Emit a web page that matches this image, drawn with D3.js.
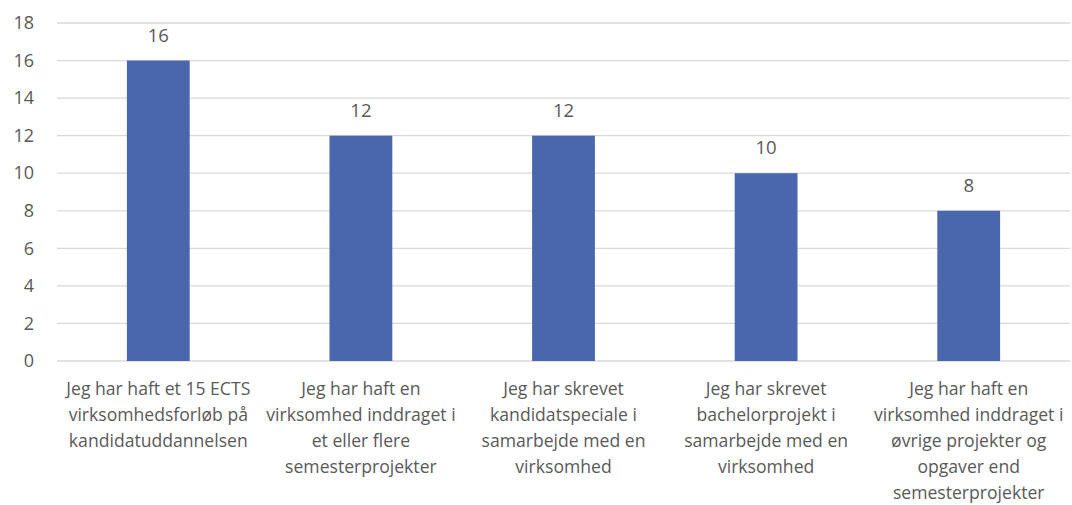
<!DOCTYPE html>
<html>
<head>
<meta charset="utf-8">
<script src="https://cdn.jsdelivr.net/npm/d3@7"></script>
<style>
  body { margin: 0; background: #fff; }
  text { font-family: "Open Sans", "Noto Sans", sans-serif; fill: #595959; }
</style>
</head>
<body>
<div id="chart"></div>
<script>
// Data
const categories = [
    ["Jeg har haft et 15 ECTS", "virksomhedsforløb på", "kandidatuddannelsen"],
    ["Jeg har haft en", "virksomhed inddraget i", "et eller flere", "semesterprojekter"],
    ["Jeg har skrevet", "kandidatspeciale i", "samarbejde med en", "virksomhed"],
    ["Jeg har skrevet", "bachelorprojekt i", "samarbejde med en", "virksomhed"],
    ["Jeg har haft en", "virksomhed inddraget i", "øvrige projekter og", "opgaver end", "semesterprojekter"]
];
const values = [16, 12, 12, 10, 8];
const yTicks = [0, 2, 4, 6, 8, 10, 12, 14, 16, 18];

const width = 1072, height = 505;
const margin = {top: 23, right: 2, bottom: 144, left: 57};
const innerW = width - margin.left - margin.right;
const innerH = height - margin.top - margin.bottom;

const svg = d3.select("#chart").append("svg")
    .attr("width", width)
    .attr("height", height);

const g = svg.append("g")
    .attr("transform", "translate(" + margin.left + "," + margin.top + ")");

const idx = categories.map((d, i) => i);
const x = d3.scaleBand().domain(idx).range([0, innerW]).paddingInner(0.69).paddingOuter(0.345);
const y = d3.scaleLinear().domain([0, 18]).range([innerH, 0]);

// gridlines
g.selectAll(".grid")
    .data(yTicks)
    .enter().append("line")
    .attr("x1", 0)
    .attr("x2", innerW)
    .attr("y1", d => y(d))
    .attr("y2", d => y(d))
    .attr("stroke", "#d9d9d9")
    .attr("stroke-width", 1.3);

// y axis labels
const yAxis = g.append("g")
    .call(d3.axisLeft(y).tickValues(yTicks).tickSize(0).tickPadding(23));
yAxis.select(".domain").remove();
yAxis.selectAll("text")
    .style("font-size", "18px")
    .attr("fill", "#595959");

// bars
g.selectAll(".bar")
    .data(values)
    .enter().append("rect")
    .attr("class", "bar")
    .attr("x", (d, i) => x(i))
    .attr("y", d => y(d))
    .attr("width", x.bandwidth())
    .attr("height", d => innerH - y(d))
    .attr("fill", "#4A66AC");

// value labels
g.selectAll(".val")
    .data(values)
    .enter().append("text")
    .attr("class", "val")
    .attr("x", (d, i) => x(i) + x.bandwidth() / 2)
    .attr("y", d => y(d) - 19)
    .attr("text-anchor", "middle")
    .style("font-size", "18.5px")
    .text(d => d);

// category labels
const cat = g.selectAll(".cat")
    .data(categories)
    .enter().append("text")
    .attr("class", "cat")
    .attr("text-anchor", "middle")
    .attr("transform", (d, i) => "translate(" + (x(i) + x.bandwidth() / 2) + "," + (innerH + 34) + ")")
    .style("font-size", "17.6px");

cat.selectAll("tspan")
    .data(d => d)
    .enter().append("tspan")
    .attr("x", 0)
    .attr("dy", (d, i) => i === 0 ? 0 : 26)
    .text(d => d);
</script>
</body>
</html>
